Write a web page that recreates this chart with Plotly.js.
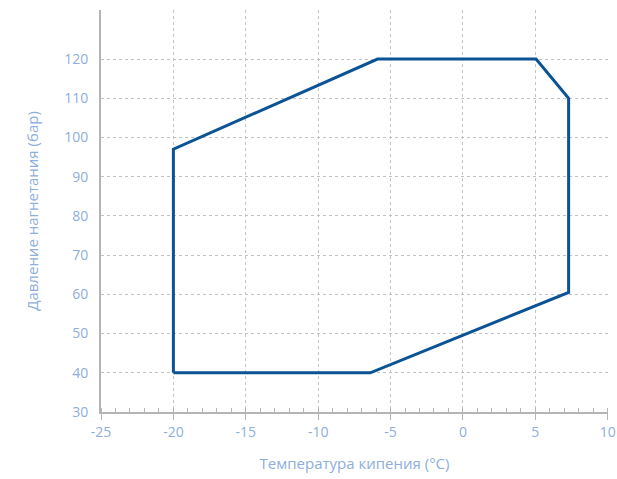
<!DOCTYPE html>
<html>
<head>
<meta charset="utf-8">
<script src="https://cdn.plot.ly/plotly-3.0.1.min.js"></script>
<style>html,body{margin:0;padding:0;background:#fff;}#chart{width:617px;height:479px;}</style>
</head>
<body>
<div id="chart"></div>
<script>
// Operating envelope (polygon vertices, closed)
const boilingTemp = [-20, -20, -5.9, 5.05, 7.3, 7.3, -6.4, -20];
const dischargePressure = [40, 97, 120, 120, 110, 60.5, 40, 40];
const xTicks = [-25, -20, -15, -10, -5, 0, 5, 10];
const yTicks = [30, 40, 50, 60, 70, 80, 90, 100, 110, 120];

const labelColor = '#8eaedb';
const data = [{
  x: boilingTemp,
  y: dischargePressure,
  type: 'scatter',
  mode: 'lines',
  line: {color: '#0b5394', width: 3},
  hoverinfo: 'x+y'
}];

const layout = {
  width: 617, height: 479,
  margin: {l: 101, r: 9, t: 10, b: 67},
  paper_bgcolor: '#ffffff',
  plot_bgcolor: '#ffffff',
  showlegend: false,
  font: {family: '"Open Sans", sans-serif', color: labelColor, size: 14},
  xaxis: {
    range: [-25, 10.02],
    tickvals: xTicks,
    ticktext: xTicks.map(String),
    ticklabeloverflow: 'allow',
    showline: true, linecolor: '#b4b4b4', linewidth: 2,
    ticks: 'outside', ticklen: 6, tickcolor: '#b4b4b4', tickwidth: 1,
    minor: {dtick: 1, ticks: 'inside', ticklen: 4, tickcolor: '#b4b4b4', showgrid: false},
    showgrid: true, gridcolor: '#c2c2c2', griddash: 'dot', gridwidth: 1,
    zeroline: false,
    tickfont: {size: 14, color: labelColor},
    title: {text: 'Температура кипения (°C)', font: {size: 15, color: labelColor}, standoff: 19}
  },
  yaxis: {
    range: [30, 132.5],
    tickvals: yTicks,
    ticktext: yTicks.map(String),
    showline: true, linecolor: '#b4b4b4', linewidth: 2,
    ticks: '',
    showgrid: true, gridcolor: '#c2c2c2', griddash: 'dot', gridwidth: 1,
    zeroline: false,
    tickfont: {size: 14, color: labelColor},
    ticklabelstandoff: 8,
    title: {text: 'Давление нагнетания (бар)', font: {size: 15, color: labelColor}, standoff: 22}
  }
};

Plotly.newPlot('chart', data, layout, {displayModeBar: false, staticPlot: true});
</script>
</body>
</html>
